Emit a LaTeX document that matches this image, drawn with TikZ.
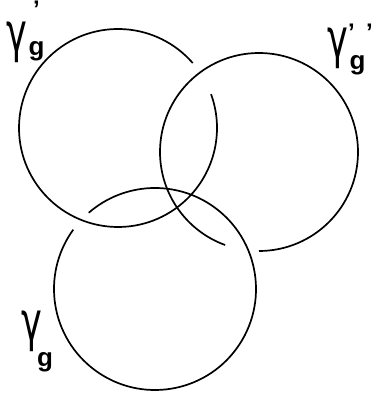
\documentclass[tikz,border=0pt]{standalone}
\usepackage{fontspec}
\setmainfont{Liberation Sans}
\newfontfamily\grk{DejaVu Sans}
\usetikzlibrary{positioning}
\tikzset{
  ring/.style={draw=black,line width=1.7pt},
  gam/.style={inner sep=0pt,font=\grk\fontsize{54}{54}\selectfont},
  sub/.style={inner sep=0pt,font=\fontsize{26}{26}\selectfont\bfseries},
  prm/.style={inner sep=0pt,anchor=north,font=\fontsize{24}{24}\selectfont\bfseries},
}
\newcommand{\gmm}{\scalebox{0.65}[1]{γ}}

\begin{document}
\begin{tikzpicture}[x=1pt,y=1pt]
  \useasboundingbox (0,0) rectangle (373,401);
  \coordinate (ca) at (118,273);
  \coordinate (cb) at (259,249);
  \coordinate (cc) at (155,112);
  \draw[ring] ([shift={(41:99)}]ca) arc[start angle=41,end angle=380,radius=99];
  \draw[ring] ([shift={(270:99)}]cb) arc[start angle=270,end angle=610,radius=99];
  \draw[ring] ([shift={(144:101)}]cc) arc[start angle=144,end angle=491,radius=101];
  \node[gam] (g1) at (17,358.5) {\gmm};
  \node[sub] (s1) at (36.5,350) {g};
  \node[prm] (p1) at (36.5,400) {\symbol{39}};
  \node[gam] (g2) at (338,353) {\gmm};
  \node[sub] (s2) at (357.5,336) {g};
  \node[prm] (p2) at (351.5,377) {\symbol{39}};
  \node[prm] (p3) at (369.5,377) {\symbol{39}};
  \node[gam] (g3) at (32,70) {\gmm};
  \node[sub] (s3) at (45,39) {g};
\end{tikzpicture}
\end{document}
